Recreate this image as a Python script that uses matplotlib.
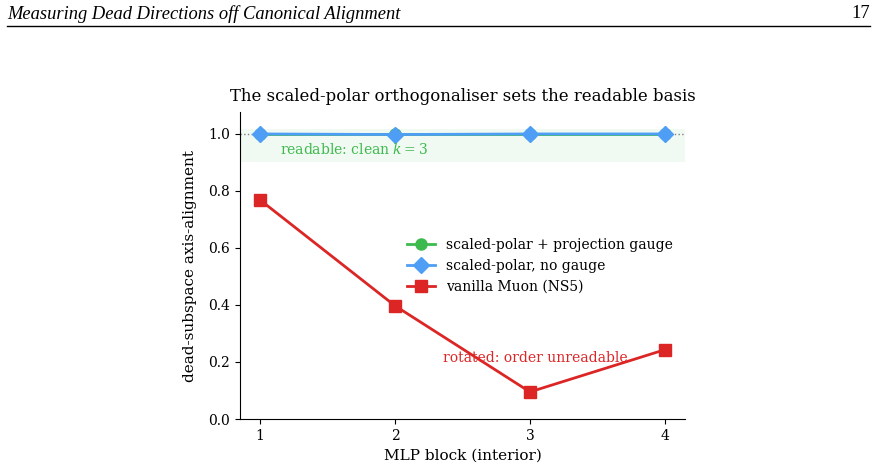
import matplotlib
matplotlib.use("Agg")
import matplotlib.pyplot as plt

blocks = [1, 2, 3, 4]
gauge = [1.0, 1.0, 1.0, 1.0]
no_gauge = [1.0, 0.998, 1.0, 1.0]
vanilla = [0.768, 0.397, 0.095, 0.243]

GREEN = "#3dba4e"
BLUE = "#4f9ef5"
RED = "#dc2626"

plt.rcParams["font.family"] = "DejaVu Serif"
plt.rcParams["mathtext.fontset"] = "dejavuserif"

fig = plt.figure(figsize=(8.77, 4.73), dpi=100)

# page header
fig.text(7 / 877, 1 - 14 / 473, "Measuring Dead Directions off Canonical Alignment",
         family="Liberation Serif", style="italic", fontsize=13.3, va="center", ha="left")
fig.text(870 / 877, 1 - 14 / 473, "17", family="Liberation Serif", fontsize=13.3,
         va="center", ha="right")
fig.add_artist(plt.Line2D([7 / 877, 870 / 877], [1 - 26 / 473, 1 - 26 / 473],
                          color="black", lw=1.0, transform=fig.transFigure))

ax = fig.add_axes([240 / 877, 1 - 419 / 473, 445 / 877, 307 / 473])

ax.axhspan(0.9, 1.018, color=GREEN, alpha=0.07, lw=0)
ax.axhline(1.0, color="gray", ls=":", lw=1.0)

ax.plot(blocks, gauge, color=GREEN, marker="o", ms=8, lw=2, label="scaled-polar + projection gauge")
ax.plot(blocks, no_gauge, color=BLUE, marker="D", ms=8, lw=2, label="scaled-polar, no gauge")
ax.plot(blocks, vanilla, color=RED, marker="s", ms=8, lw=2, label="vanilla Muon (NS5)")

ax.text(1.15, 0.944, "readable: clean $k = 3$", color=GREEN, fontsize=10, va="center")
ax.text(2.355, 0.214, "rotated: order unreadable", color=RED, fontsize=10, va="center")

ax.set_xlim(0.85, 4.15)
ax.set_ylim(0, 1.077)
ax.set_xticks(blocks)
ax.set_yticks([0.0, 0.2, 0.4, 0.6, 0.8, 1.0])
ax.tick_params(labelsize=10)
ax.spines["top"].set_visible(False)
ax.spines["right"].set_visible(False)

ax.set_xlabel("MLP block (interior)", fontsize=11)
ax.set_ylabel("dead-subspace axis-alignment", fontsize=11, labelpad=8)
ax.set_title("The scaled-polar orthogonaliser sets the readable basis", fontsize=11.9, pad=8)

ax.legend(loc="center right", frameon=False, fontsize=10, bbox_to_anchor=(1.0, 0.5))

fig.savefig("out.png", dpi=100)
